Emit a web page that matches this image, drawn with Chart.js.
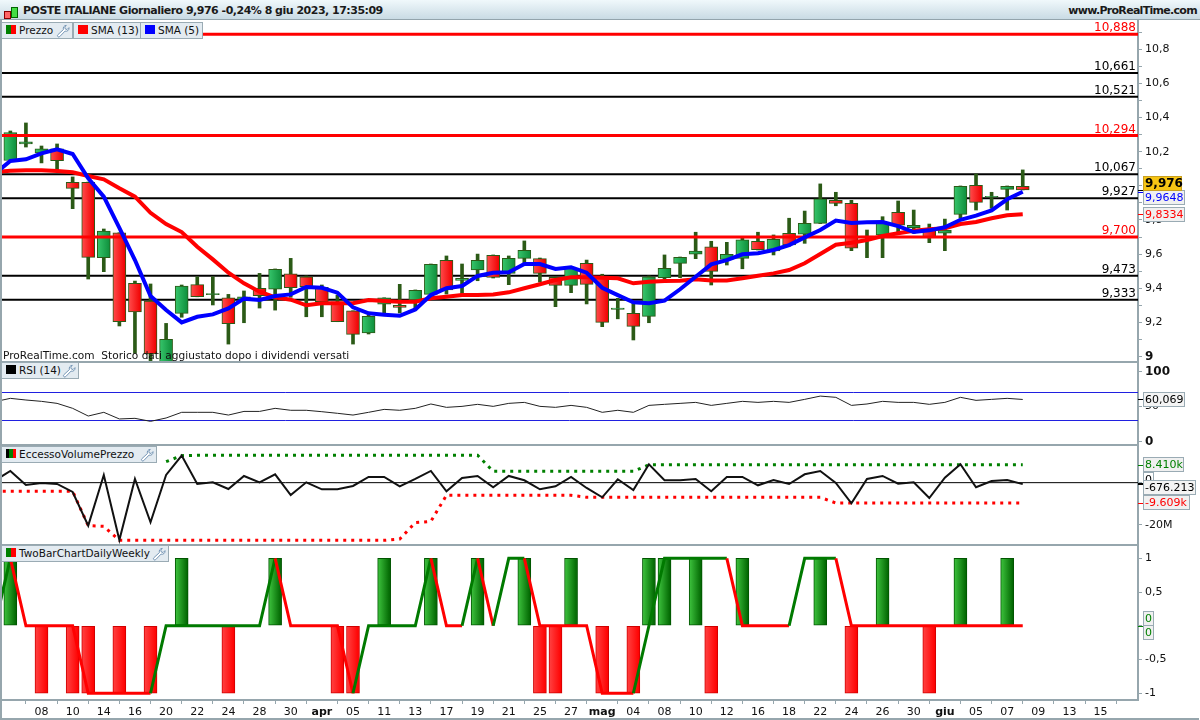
<!DOCTYPE html>
<html>
<head>
<meta charset="utf-8">
<script src="https://cdn.jsdelivr.net/npm/chart.js@4"></script>
<style>
html, body { margin: 0; padding: 0; background: #fff; }
body { width: 1200px; height: 720px; position: relative; overflow: hidden; font-family: "DejaVu Sans", sans-serif; }
canvas { position: absolute; left: 0; top: 0; }
.head { position: absolute; left: 0; top: 0; width: 1200px; height: 20px; background: linear-gradient(#f0f8fb, #c9dbe4); border-bottom: 1px solid #93a4ac; box-sizing: border-box; }
.head b { position: absolute; top: 4px; font-size: 11px; letter-spacing: -0.5px; color: #1a1a1a; white-space: nowrap; }
.chip { position: absolute; height: 17px; box-sizing: border-box; background: #e3ebf1; border: 1px solid #9aabb4; font-size: 10.5px; line-height: 15px; color: #111; white-space: nowrap; }
.chip i { position: absolute; top: 2px; height: 9px; display: block; }
.chip span { position: absolute; top: 0; }
.chip svg { position: absolute; top: 1px; }
.note { position: absolute; left: 3px; top: 349px; font-size: 10.6px; color: #111; white-space: pre; }
</style>
</head>
<body>
<canvas id="myChart" width="1200" height="720"></canvas>
<div class="head">
  <i style="position:absolute;left:4px;top:11px;width:5px;height:6px;background:#f66;border:1px solid #800"></i>
  <i style="position:absolute;left:11px;top:7px;width:5px;height:9px;background:#4d4;border:1px solid #060"></i>
  <b style="left:23px">POSTE ITALIANE Giornaliero 9,976 -0,24% 8 giu 2023, 17:35:09</b>
  <b style="right:3px;letter-spacing:-0.7px">www.ProRealTime.com</b>
</div>
<div id="chips"></div>
<div class="note">ProRealTime.com  Storico dati aggiustato dopo i dividendi versati</div>
<script>
// Poste Italiane daily, index 0 = first candle on the left
let opens = [10.148,10.245,10.192,10.217,10.020,10.020,9.579,9.725,9.429,9.325,8.94,9.253,9.421,9.363,9.344,9.335,9.400,9.394,9.485,9.467,9.405,9.321,9.268,9.139,9.306,9.300,9.331,9.364,9.564,9.446,9.508,9.593,9.487,9.575,9.573,9.464,9.417,9.546,9.464,9.276,9.253,9.235,9.462,9.546,9.599,9.643,9.569,9.575,9.675,9.618,9.722,9.716,9.780,9.915,9.897,9.694,9.713,9.845,9.755,9.741,9.722,9.833,10.003,9.933,9.979,9.997];
let highs = [10.321,10.368,10.233,10.245,10.052,10.022,9.747,9.725,9.442,9.425,9.194,9.419,9.467,9.467,9.364,9.384,9.487,9.513,9.575,9.472,9.419,9.360,9.268,9.243,9.344,9.423,9.390,9.542,9.589,9.542,9.600,9.595,9.589,9.677,9.577,9.466,9.518,9.565,9.482,9.341,9.313,9.472,9.595,9.583,9.728,9.675,9.669,9.694,9.728,9.712,9.810,9.852,10.011,9.962,9.915,9.741,9.819,9.911,9.858,9.776,9.805,9.999,10.069,9.962,9.999,10.093];
let lows = [10.145,10.227,10.134,10.093,9.866,9.454,9.497,9.179,9.019,8.970,8.93,9.230,9.350,9.302,9.073,9.198,9.284,9.272,9.347,9.233,9.233,9.204,9.073,9.132,9.253,9.255,9.272,9.360,9.366,9.366,9.444,9.460,9.421,9.546,9.436,9.292,9.374,9.308,9.175,9.221,9.097,9.198,9.454,9.462,9.573,9.419,9.536,9.514,9.624,9.595,9.647,9.663,9.779,9.883,9.620,9.579,9.579,9.731,9.722,9.667,9.620,9.811,9.858,9.868,9.858,9.976];
let closes = [10.312,10.257,10.217,10.147,9.985,9.581,9.735,9.204,9.262,9.015,9.101,9.413,9.350,9.369,9.192,9.350,9.356,9.511,9.403,9.409,9.321,9.204,9.130,9.235,9.344,9.288,9.388,9.540,9.390,9.458,9.564,9.464,9.575,9.622,9.487,9.417,9.517,9.423,9.200,9.284,9.177,9.467,9.517,9.581,9.618,9.499,9.599,9.684,9.626,9.687,9.653,9.780,9.924,9.897,9.634,9.706,9.782,9.769,9.769,9.698,9.741,9.997,9.903,9.939,9.997,9.976];

// indicator series start one bar earlier, at index -1, off the left edge
let sma13 = [10.081,10.088,10.091,10.091,10.087,10.079,10.057,10.038,9.985,9.936,9.842,9.776,9.729,9.643,9.569,9.491,9.429,9.380,9.347,9.333,9.300,9.312,9.312,9.312,9.331,9.325,9.321,9.321,9.341,9.350,9.360,9.360,9.364,9.376,9.400,9.423,9.448,9.464,9.464,9.462,9.458,9.429,9.438,9.442,9.444,9.452,9.446,9.446,9.458,9.473,9.487,9.507,9.546,9.600,9.655,9.667,9.682,9.706,9.722,9.737,9.745,9.751,9.776,9.788,9.810,9.827,9.8334];
let sma5 = [10.071,10.145,10.155,10.190,10.214,10.186,10.044,9.936,9.753,9.565,9.354,9.272,9.200,9.233,9.247,9.282,9.339,9.331,9.354,9.364,9.407,9.403,9.374,9.288,9.253,9.245,9.239,9.276,9.360,9.400,9.413,9.472,9.491,9.493,9.542,9.542,9.513,9.523,9.491,9.403,9.360,9.318,9.312,9.327,9.394,9.467,9.540,9.565,9.599,9.605,9.624,9.653,9.698,9.741,9.796,9.782,9.786,9.788,9.764,9.729,9.739,9.757,9.801,9.825,9.856,9.921,9.9648];
let rsi = [56.85,61.66,59.3,57.36,54.5,47.4,36.4,41.7,32.2,33.1,28.8,33.6,41.7,41.7,41.7,37.8,43.0,43.0,47.4,44.6,44.6,42.6,40.3,37.8,41.7,45.9,44.6,47.4,53.6,48.8,50.2,53.1,50.2,54.5,55.9,50.2,48.8,51.6,48.8,41.7,44.6,41.7,51.6,53.1,54.5,55.9,51.6,54.5,57.36,55.9,57.36,55.9,60.2,64.9,63.1,51.6,53.6,57.36,55.9,55.9,53.1,55.9,63.1,58.8,60.2,61.66,60.069];
// EccessoVolumePrezzo, millions
let evpLine = [0.96,5.53,-1.09,-0.14,-0.62,-4.40,-20.3,3.64,-27.1,1.75,-18.7,3.64,12.78,-0.62,0.17,-2.98,3.17,0.17,3.95,-5.82,0.17,-3.14,-3.14,-1.56,2.69,2.69,-1.72,1.75,5.53,-4.08,2.22,3.17,-2.19,3.17,1.12,-3.14,-1.72,2.69,-2.51,-6.92,1.59,-3.45,8.68,1.12,1.12,1.75,-4.08,2.69,2.69,-1.25,1.27,-0.62,3.95,5.53,-0.14,-9.76,1.75,3.17,-0.46,0.17,-7.24,2.38,8.68,-2.19,0.80,1.27,-0.676];
let evpUpper = [null,null,null,null,null,null,null,null,null,null,null,9.94,12.78,12.94,12.94,12.94,12.94,12.94,12.94,12.94,12.94,12.94,12.94,12.94,12.94,12.94,12.94,12.94,12.94,12.94,12.94,12.94,5.37,5.37,5.37,5.37,5.37,5.37,5.37,5.37,5.37,5.37,8.41,8.41,8.41,8.41,8.41,8.41,8.41,8.41,8.41,8.41,8.41,8.41,8.41,8.41,8.41,8.41,8.41,8.41,8.41,8.41,8.41,8.41,8.41,8.41,8.41];
let evpLower = [-4.08,-4.08,-4.08,-4.08,-4.08,-4.08,-20.32,-20.63,-27.25,-27.25,-27.25,-27.25,-27.25,-27.25,-27.25,-27.25,-27.25,-27.25,-27.25,-27.25,-27.25,-27.25,-27.25,-27.25,-27.25,-27.25,-26.62,-18.9,-18.27,-5.97,-5.97,-5.97,-5.97,-5.97,-5.97,-5.97,-5.97,-5.97,-6.92,-6.92,-6.92,-6.92,-6.92,-6.92,-6.92,-6.92,-6.92,-6.92,-6.92,-6.92,-6.92,-6.92,-6.92,-6.92,-9.609,-9.609,-9.609,-9.609,-9.609,-9.609,-9.609,-9.609,-9.609,-9.609,-9.609,-9.609,-9.609];
// TwoBarChartDailyWeekly
let tbcBars = [1,0,-1,0,-1,-1,0,-1,0,-1,0,1,0,0,-1,0,0,1,0,0,0,-1,-1,0,1,0,0,1,0,0,1,0,0,1,-1,-1,1,0,-1,0,-1,1,1,0,1,-1,0,1,0,0,0,0,1,0,-1,0,1,0,0,-1,0,1,0,0,1,0];
let tbcLine = [0,1,0,0,0,0,-1,-1,-1,-1,-1,0,0,0,0,0,0,0,1,0,0,0,0,-1,0,0,0,0,1,0,0,1,0,1,1,0,0,0,0,-1,-1,-1,0,1,1,1,1,1,0,0,0,0,1,1,1,0,0,0,0,0,0,0,0,0,0,0,0];

let blackLevels = [10.661, 10.521, 10.067, 9.927, 9.473, 9.333];
let redLevels = [10.888, 10.294, 9.700];
let rsiLevels = [70, 30];

// one label every second bar, from index 0
let tickLabels = ['', '08', '10', '14', '16', '20', '22', '24', '28', '30', 'apr', '05', '11', '13', '17', '19', '21', '25', '27', 'mag', '04', '08', '10', '12', '16', '18', '22', '24', '26', '30', 'giu', '05', '07', '09', '13', '15', ''];

const XMIN = -0.6, XMAX = 72.4;
const FONT = '"DejaVu Sans", sans-serif';
const WICK = '#2b5a16';

function fromIndex(arr, first) {
    return arr.map((v, i) => ({ x: i + first, y: v }));
}

function barGradient(ctx, light, dark, half) {
    let scale = ctx.chart.scales.x;
    if (!ctx.parsed || !scale) return dark;
    let px = scale.getPixelForValue(ctx.parsed.x);
    if (!isFinite(px)) return dark;
    let g = ctx.chart.ctx.createLinearGradient(px - half, 0, px + half, 0);
    g.addColorStop(0, light);
    g.addColorStop(1, dark);
    return g;
}

function levelLine(v, color, width, axis, order) {
    return {
        type: 'line', yAxisID: axis, order: order, data: [{ x: XMIN, y: v }, { x: XMAX, y: v }],
        borderColor: color, borderWidth: width, pointRadius: 0
    };
}

function seriesLine(arr, color, width, axis, order, extra) {
    return Object.assign({
        type: 'line', yAxisID: axis, order: order, data: fromIndex(arr, -1),
        borderColor: color, borderWidth: width, pointRadius: 0, tension: 0, spanGaps: false
    }, extra || {});
}

// colour of the TwoBarChart line follows its last direction
function tbcColor(ctx) {
    let i = ctx.p0DataIndex;
    while (i >= 0 && tbcLine[i] === tbcLine[i + 1]) i--;
    if (i < 0) return '#007a00';
    return tbcLine[i + 1] > tbcLine[i] ? '#007a00' : '#ff0000';
}

let datasets = [];

blackLevels.forEach(v => datasets.push(levelLine(v, '#000', 2, 'yPrice', 20)));

datasets.push({
    type: 'bar', label: 'wick', yAxisID: 'yPrice', order: 12, grouped: false, barThickness: 3,
    data: highs.map((h, i) => ({ x: i, y: [lows[i], h] })),
    backgroundColor: WICK, borderWidth: 0
});
datasets.push({
    type: 'bar', label: 'body', yAxisID: 'yPrice', order: 11, grouped: false, barThickness: 13,
    data: closes.map((c, i) => ({ x: i, y: [opens[i], c] })),
    backgroundColor: ctx => closes[ctx.dataIndex] >= opens[ctx.dataIndex]
        ? barGradient(ctx, '#35c46a', '#0f8f3c', 6)
        : barGradient(ctx, '#ff4a4a', '#f00000', 6),
    borderColor: WICK, borderWidth: 1, borderSkipped: false
});

redLevels.forEach(v => datasets.push(levelLine(v, '#ff0000', 3, 'yPrice', 5)));
datasets.push(seriesLine(sma13, '#ff0000', 4, 'yPrice', 3));
datasets.push(seriesLine(sma5, '#0000ff', 4, 'yPrice', 2));

rsiLevels.forEach(v => datasets.push(levelLine(v, '#2020e0', 1, 'yRsi', 5)));
datasets.push(seriesLine(rsi, '#222', 1, 'yRsi', 2));

datasets.push(levelLine(0, '#000', 1, 'yEvp', 5));
datasets.push(seriesLine(evpUpper, '#008000', 3, 'yEvp', 3, { borderDash: [3, 5] }));
datasets.push(seriesLine(evpLower, '#ff0000', 3, 'yEvp', 3, { borderDash: [3, 5] }));
datasets.push(seriesLine(evpLine, '#111', 2, 'yEvp', 2));

datasets.push({
    type: 'bar', yAxisID: 'yTbc', order: 6, grouped: false, barThickness: 13,
    data: fromIndex(tbcBars, 0).filter(p => p.y !== 0),
    backgroundColor: ctx => ctx.parsed && ctx.parsed.y > 0
        ? barGradient(ctx, '#3cc03c', '#006400', 6)
        : barGradient(ctx, '#ff4040', '#ff0000', 6),
    borderColor: ctx => ctx.parsed && ctx.parsed.y > 0 ? '#005500' : '#d00000',
    borderWidth: 1, borderSkipped: false
});
datasets.push(seriesLine(tbcLine, '#ff0000', 3, 'yTbc', 2, { segment: { borderColor: tbcColor } }));

function comma(v, digits) {
    let s = Math.abs(v).toFixed(digits).replace('.', ',');
    return (v < -1e-9 ? '-' : '') + s;
}

function yAxis(stackWeight, weight, min, max, step, callback, font) {
    return {
        position: 'right', stack: 'panels', stackWeight: stackWeight, weight: weight,
        min: min, max: max,
        afterFit: s => { s.width = 62; },
        border: { color: '#96a6ad', width: 2 },
        grid: { drawOnChartArea: false, color: '#96a6ad', tickLength: 4 },
        ticks: {
            stepSize: step, includeBounds: false, autoSkip: false, maxRotation: 0,
            padding: 3, color: '#111', callback: callback,
            font: font || { family: FONT, size: 11 }
        }
    };
}

let scales = {
    x: {
        type: 'linear', min: XMIN, max: XMAX, offset: false,
        afterFit: s => { s.height = 20; },
        border: { color: '#96a6ad', width: 2 },
        grid: { drawOnChartArea: false, color: '#96a6ad', tickLength: 4 },
        ticks: {
            stepSize: 2, includeBounds: false, autoSkip: false, maxRotation: 0, padding: 2, color: '#111',
            callback: v => tickLabels[Math.round(v / 2)] || '',
            font: ctx => {
                let t = ctx.tick && ctx.tick.label;
                return ['apr', 'mag', 'giu'].includes(t)
                    ? { family: FONT, size: 11, weight: 'bold' } : { family: FONT, size: 11 };
            }
        }
    },
    yPrice: yAxis(342, 1, 8.968, 10.971, 0.1, v => {
        let n = Math.round(v * 10);
        if (n % 2) return '';
        return comma(v, n % 10 === 0 ? 0 : 1);
    }, ctx => (ctx.tick && Math.abs(ctx.tick.value - 9) < 0.01)
        ? { family: FONT, size: 12, weight: 'bold' } : { family: FONT, size: 11 }),
    yRsi: yAxis(83, 2, -5, 113.6, 50, v => String(v), ctx => (ctx.tick && ctx.tick.value === 50)
        ? { family: FONT, size: 11 } : { family: FONT, size: 12, weight: 'bold' }),
    yEvp: yAxis(100, 3, -29.46, 17.8, 20, v => v === 0 ? '0' : '-' + Math.abs(v) + 'M'),
    yTbc: yAxis(155, 4, -1.1, 1.197, 0.5, v => v === 0 ? '0' : comma(v, v % 1 === 0 ? 0 : 1))
};

// level texts sitting on top of the horizontal lines
let levelTexts = [
    ['10,888', 10.888, '#ff0000'], ['10,661', 10.661, '#000'], ['10,521', 10.521, '#000'],
    ['10,294', 10.294, '#ff0000'], ['10,067', 10.067, '#000'], ['9,927', 9.927, '#000'],
    ['9,700', 9.700, '#ff0000'], ['9,473', 9.473, '#000'], ['9,333', 9.333, '#000']
];

// value boxes right of the axis: text, axis, value, colour, box width, box shift, fill
let valueBoxes = [
    ['9,8334', 'yPrice', 9.8334, '#ff0000', 41, 0, '#f0f0f0'],
    ['9,9648', 'yPrice', 9.9648, '#0000ff', 41, 6, '#f0f0f0'],
    ['9,976', 'yPrice', 9.976, '#000', 38, -6, '#f6c414', true],
    ['60,069', 'yRsi', 60.069, '#000', 41, 0, '#f4f4f4'],
    ['8.410k', 'yEvp', 8.41, '#008000', 40, 0, '#f0f0f0'],
    ['0', 'yEvp', 0, '#000', 10, -3, '#fff'],
    ['-9.609k', 'yEvp', -9.609, '#ff0000', 46, 0, '#f0f0f0'],
    ['-676.213', 'yEvp', -0.676, '#000', 52, 3, '#f4f4f4'],
    ['0', 'yTbc', 0, '#008000', 10, -7, '#f0f0f0'],
    ['0', 'yTbc', 0, '#008000', 10, 7, '#f0f0f0']
];

const chrome = {
    id: 'chrome',
    afterDraw(chart) {
        let c = chart.ctx, a = chart.chartArea, y = chart.scales.yPrice;
        c.save();
        // panel separators and frame
        c.strokeStyle = '#96a6ad';
        c.lineWidth = 2;
        ['yRsi', 'yEvp', 'yTbc'].forEach(id => {
            let t = chart.scales[id].top;
            c.beginPath(); c.moveTo(0, t); c.lineTo(a.right, t); c.stroke();
        });
        c.beginPath(); c.moveTo(1, 20); c.lineTo(1, 719); c.lineTo(1199, 719); c.stroke();

        c.textBaseline = 'alphabetic';
        c.textAlign = 'right';
        c.font = '12px ' + FONT;
        levelTexts.forEach(t => {
            c.fillStyle = t[2];
            c.fillText(t[0], a.right - 2, y.getPixelForValue(t[1]) - 3);
        });

        c.textAlign = 'left';
        c.textBaseline = 'middle';
        valueBoxes.forEach(b => {
            let py = chart.scales[b[1]].getPixelForValue(b[2]);
            c.strokeStyle = b[3];
            c.lineWidth = 1;
            c.beginPath(); c.moveTo(a.right, Math.round(py) + 0.5); c.lineTo(a.right + 5, Math.round(py) + 0.5); c.stroke();
            let top = Math.round(py + b[5] - 7.5);
            c.fillStyle = b[6];
            c.fillRect(1143, top, b[4], 15);
            c.strokeStyle = b[7] ? '#c9a020' : '#9aabb4';
            c.strokeRect(1143.5, top + 0.5, b[4], 14);
            c.fillStyle = b[3];
            c.font = (b[7] ? 'bold 12px ' : '11px ') + FONT;
            c.fillText(b[0], 1145, top + 8);
        });
        c.restore();
    }
};

let myChart = document.getElementById('myChart').getContext('2d');
let chart1 = new Chart(myChart, {
    type: 'bar',
    data: { datasets: datasets },
    options: {
        responsive: false,
        animation: false,
        layout: { autoPadding: false, padding: { top: 20, left: 1, right: 0, bottom: 0 } },
        plugins: { legend: { display: false }, tooltip: { enabled: false } },
        scales: scales
    },
    plugins: [chrome]
});

// legend chips over the panels
const WRENCH = '<path d="M11 1.5a3.2 3.2 0 0 0-3 4.4L2 11.5a1.4 1.4 0 0 0 2 2l5.700-5.900a3.200 3.200 0 0 0 4.200-3.700l-2 2-2-.6-.5-2z" fill="#fff" stroke="#6d8fb0" stroke-width="1"/>';
function chip(left, top, width, label, swatches, wrench) {
    let d = document.createElement('div');
    d.className = 'chip';
    d.style.left = left + 'px';
    d.style.top = top + 'px';
    d.style.width = width + 'px';
    let html = '';
    let sx = 4, sw = 10 / swatches.length;
    swatches.forEach((col, n) => { html += '<i style="left:' + (sx + n * sw) + 'px;width:' + sw + 'px;background:' + col + '"></i>'; });
    html += '<span style="left:17px">' + label + '</span>';
    if (wrench) html += '<svg width="14" height="14" viewBox="0 0 15 15" style="left:' + (width - 18) + 'px">' + WRENCH + '</svg>';
    d.innerHTML = html;
    document.getElementById('chips').appendChild(d);
}
chip(1, 22, 72, 'Prezzo', ['#008000', '#ff0000'], true);
chip(73, 22, 68, 'SMA (13)', ['#ff0000']);
chip(140, 22, 63, 'SMA (5)', ['#0000ff']);
chip(1, 362, 78, 'RSI (14)', ['#000'], true);
chip(1, 446, 156, 'EccessoVolumePrezzo', ['#000', '#008000', '#ff0000'], true);
chip(1, 545, 168, 'TwoBarChartDailyWeekly', ['#008000', '#ff0000'], true);
</script>
</body>
</html>
